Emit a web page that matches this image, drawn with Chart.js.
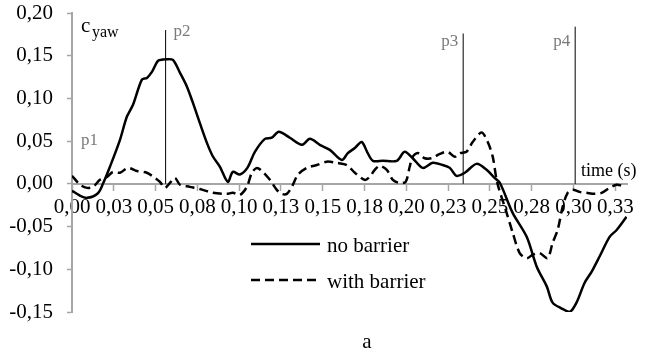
<!DOCTYPE html>
<html>
<head>
<meta charset="utf-8">
<script src="https://cdn.jsdelivr.net/npm/chart.js@4.4.1/dist/chart.umd.min.js"></script>
<style>
  html, body { margin: 0; padding: 0; background: #fff; }
  #wrap { width: 651px; height: 358px; }
</style>
</head>
<body>
<div id="wrap"><canvas id="yawChart" width="651" height="358"></canvas></div>
<script>
// tiempos (s) y coeficiente c_yaw
const tNoBarrier = [
  0.000, 0.004, 0.009, 0.0155, 0.0185, 0.0227, 0.0287, 0.0328, 0.0365, 0.0418,
  0.0448, 0.0478, 0.0514, 0.0545, 0.0568, 0.0604, 0.0646, 0.0687, 0.0723, 0.0765,
  0.0807, 0.0843, 0.0885, 0.0932, 0.0962, 0.1004, 0.105, 0.1094, 0.1154, 0.1195,
  0.1237, 0.1303, 0.1375, 0.1423, 0.1482, 0.1542, 0.1614, 0.165, 0.1692, 0.1733,
  0.1769, 0.18, 0.1859, 0.1943, 0.199, 0.2038, 0.2098, 0.2158, 0.2218, 0.226,
  0.230, 0.235, 0.242, 0.248, 0.2528, 0.256, 0.2636, 0.272, 0.278, 0.284,
  0.2875, 0.293, 0.2977, 0.3018, 0.3066, 0.3108, 0.3156, 0.3216, 0.3258, 0.3317
];
const cNoBarrier = [
  -0.008, -0.013, -0.0164, -0.011, 0.000, 0.020, 0.0515, 0.0785, 0.0925, 0.122,
  0.124, 0.131, 0.144, 0.1455, 0.146, 0.145, 0.130, 0.114, 0.095, 0.071,
  0.048, 0.032, 0.020, 0.0023, 0.014, 0.011, 0.019, 0.0375, 0.0527, 0.054,
  0.061, 0.054, 0.0457, 0.0527, 0.0457, 0.0398, 0.028, 0.036, 0.042, 0.049,
  0.036, 0.027, 0.027, 0.027, 0.0375, 0.030, 0.0187, 0.0246, 0.022, 0.0187,
  0.0094, 0.013, 0.0234, 0.0164, 0.007, 0.001, -0.034, -0.062, -0.097, -0.120,
  -0.139, -0.146, -0.150, -0.139, -0.116, -0.103, -0.085, -0.062, -0.054, -0.0386
];

const tWithBarrier = [
  0.000, 0.0048, 0.009, 0.0126, 0.0167, 0.021, 0.0245, 0.0287, 0.0335, 0.0389,
  0.0448, 0.0496, 0.0526, 0.0556, 0.0586, 0.0616, 0.0646, 0.0705, 0.0765, 0.0843,
  0.0926, 0.0962, 0.1004, 0.1046, 0.1076, 0.1106, 0.1142, 0.1184, 0.1225, 0.1255,
  0.1285, 0.1315, 0.1351, 0.1405, 0.1464, 0.1524, 0.1584, 0.1644, 0.1692, 0.1751,
  0.1781, 0.1811, 0.1841, 0.1883, 0.1919, 0.196, 0.1996, 0.202, 0.2038, 0.2068,
  0.211, 0.2152, 0.220, 0.2247, 0.229, 0.232, 0.236, 0.2397, 0.245, 0.2487,
  0.2517, 0.2543, 0.260, 0.2636, 0.2678, 0.272, 0.2756, 0.2797, 0.2845, 0.2875,
  0.2905, 0.2935, 0.2965, 0.2995, 0.3036, 0.3078, 0.3126, 0.3168, 0.3216, 0.3258, 0.3293
];
const cWithBarrier = [
  0.0095, -0.001, -0.0047, -0.0035, 0.0047, 0.0082, 0.014, 0.013, 0.0187, 0.015,
  0.013, 0.007, 0.0023, -0.0047, 0.0012, 0.007, -0.001, -0.0035, -0.006, -0.0105,
  -0.0117, -0.0105, -0.013, -0.0035, 0.013, 0.0187, 0.014, 0.0047, -0.007, -0.0117,
  -0.0117, -0.0035, 0.0105, 0.0187, 0.022, 0.026, 0.0246, 0.022, 0.013, 0.0047,
  0.0082, 0.0164, 0.021, 0.0164, 0.0047, 0.001, 0.0023, 0.020, 0.0316, 0.036,
  0.030, 0.030, 0.035, 0.0375, 0.0316, 0.036, 0.0375, 0.049, 0.060, 0.049,
  0.0316, 0.002, -0.034, -0.057, -0.081, -0.087, -0.083, -0.081, -0.087, -0.069,
  -0.054, -0.027, -0.0105, -0.007, -0.0094, -0.0105, -0.0117, -0.0105, -0.0047, -0.001, -0.0023
];

// instantes p1..p4 y altura de las líneas verticales
const markerNames = ["p1", "p2", "p3", "p4"];
const markerTimes = [0, 0.056, 0.234, 0.301];
const markerTops = [null, 0.18, 0.176, 0.184];

// ejes
const xTicks = [0, 0.025, 0.05, 0.075, 0.1, 0.125, 0.15, 0.175, 0.2, 0.225, 0.25, 0.275, 0.3, 0.325];
const xTickLabels = ["0,00", "0,03", "0,05", "0,08", "0,10", "0,13", "0,15", "0,18", "0,20", "0,23", "0,25", "0,28", "0,30", "0,33"];
const yTicks = [-0.15, -0.10, -0.05, 0, 0.05, 0.10, 0.15, 0.20];
const yTickLabels = ["-0,15", "-0,10", "-0,05", "0,00", "0,05", "0,10", "0,15", "0,20"];

const SERIF = '"Liberation Serif", "Times New Roman", serif';
const AXIS_GREY = "#a6a6a6";

const toPoints = (ts, cs) => ts.map((t, i) => ({ x: t, y: cs[i] }));

const datasets = [
  {
    label: "no barrier",
    data: toPoints(tNoBarrier, cNoBarrier),
    borderColor: "#000",
    borderWidth: 2.5,
    tension: 0.3,
    pointRadius: 0
  },
  {
    label: "with barrier",
    data: toPoints(tWithBarrier, cWithBarrier),
    borderColor: "#000",
    borderWidth: 2.5,
    borderDash: [9, 5],
    tension: 0.3,
    pointRadius: 0
  }
];

// líneas verticales p2, p3, p4
markerTimes.forEach((t, i) => {
  if (markerTops[i] === null) return;
  datasets.push({
    label: markerNames[i],
    data: [{ x: t, y: 0 }, { x: t, y: markerTops[i] }],
    borderColor: "#000",
    borderWidth: 1,
    pointRadius: 0
  });
});

// textos: c_yaw, time (s), p1..p4, leyenda y "a"
const textPlugin = {
  id: "textos",
  afterDraw(chart) {
    const ctx = chart.ctx;
    const xs = chart.scales.x;
    const ys = chart.scales.y;
    ctx.save();
    ctx.fillStyle = "#000";
    ctx.textBaseline = "alphabetic";

    // c_yaw
    ctx.textAlign = "left";
    ctx.font = "21px " + SERIF;
    ctx.fillText("c", 81, 32);
    ctx.font = "16px " + SERIF;
    ctx.fillText("yaw", 92, 37);

    // time (s)
    ctx.font = "18px " + SERIF;
    ctx.fillText("time (s)", 581, 176);

    // marcadores
    ctx.font = "17px " + SERIF;
    ctx.fillStyle = "#7a7a7a";
    const pY = [0.046, 0.173, 0.161, 0.161];
    markerTimes.forEach((t, i) => {
      const px = xs.getPixelForValue(t);
      const py = ys.getPixelForValue(pY[i]);
      if (i < 2) {
        ctx.textAlign = "left";
        ctx.fillText(markerNames[i], px + (i === 0 ? 9 : 8), py);
      } else {
        ctx.textAlign = "right";
        ctx.fillText(markerNames[i], px - 5, py);
      }
    });

    // leyenda
    ctx.fillStyle = "#000";
    ctx.strokeStyle = "#000";
    ctx.lineWidth = 2.5;
    ctx.beginPath();
    ctx.moveTo(251, 244);
    ctx.lineTo(320, 244);
    ctx.stroke();
    ctx.setLineDash([9, 5]);
    ctx.beginPath();
    ctx.moveTo(251, 280);
    ctx.lineTo(320, 280);
    ctx.stroke();
    ctx.setLineDash([]);
    ctx.textAlign = "left";
    ctx.font = "21px " + SERIF;
    ctx.fillText(datasets[0].label, 327, 252);
    ctx.fillText(datasets[1].label, 327, 288);

    // subtítulo
    ctx.textAlign = "center";
    ctx.fillText("a", 367, 348);
    ctx.restore();
  }
};

new Chart(document.getElementById("yawChart"), {
  type: "line",
  data: { datasets },
  options: {
    responsive: false,
    animation: false,
    devicePixelRatio: 1,
    layout: { padding: { top: 13, bottom: 46, left: 0, right: 24 } },
    plugins: { legend: { display: false }, tooltip: { enabled: false } },
    scales: {
      x: {
        type: "linear",
        position: { y: 0 },
        min: 0,
        max: 0.332,
        afterBuildTicks: (scale) => { scale.ticks = xTicks.map(v => ({ value: v })); },
        ticks: {
          autoSkip: false,
          maxRotation: 0,
          padding: 5,
          color: "#000",
          font: { family: SERIF, size: 21 },
          callback: (v, i) => xTickLabels[i]
        },
        grid: { drawOnChartArea: false, drawTicks: true, tickLength: 6, tickColor: AXIS_GREY, tickWidth: 1.5 },
        border: { display: true, color: AXIS_GREY, width: 2 }
      },
      y: {
        type: "linear",
        position: "left",
        min: -0.15,
        max: 0.20,
        afterBuildTicks: (scale) => { scale.ticks = yTicks.map(v => ({ value: v })); },
        afterFit: (scale) => {
          scale.width = 72;
          scale.paddingTop = 0;
          scale.paddingBottom = 0;
        },
        ticks: {
          autoSkip: false,
          padding: 14,
          color: "#000",
          font: { family: SERIF, size: 21 },
          callback: (v, i) => yTickLabels[i]
        },
        grid: { drawOnChartArea: false, drawTicks: true, tickLength: 5, tickColor: AXIS_GREY, tickWidth: 1.5 },
        border: { display: true, color: AXIS_GREY, width: 2 }
      }
    }
  },
  plugins: [textPlugin]
});
</script>
</body>
</html>
